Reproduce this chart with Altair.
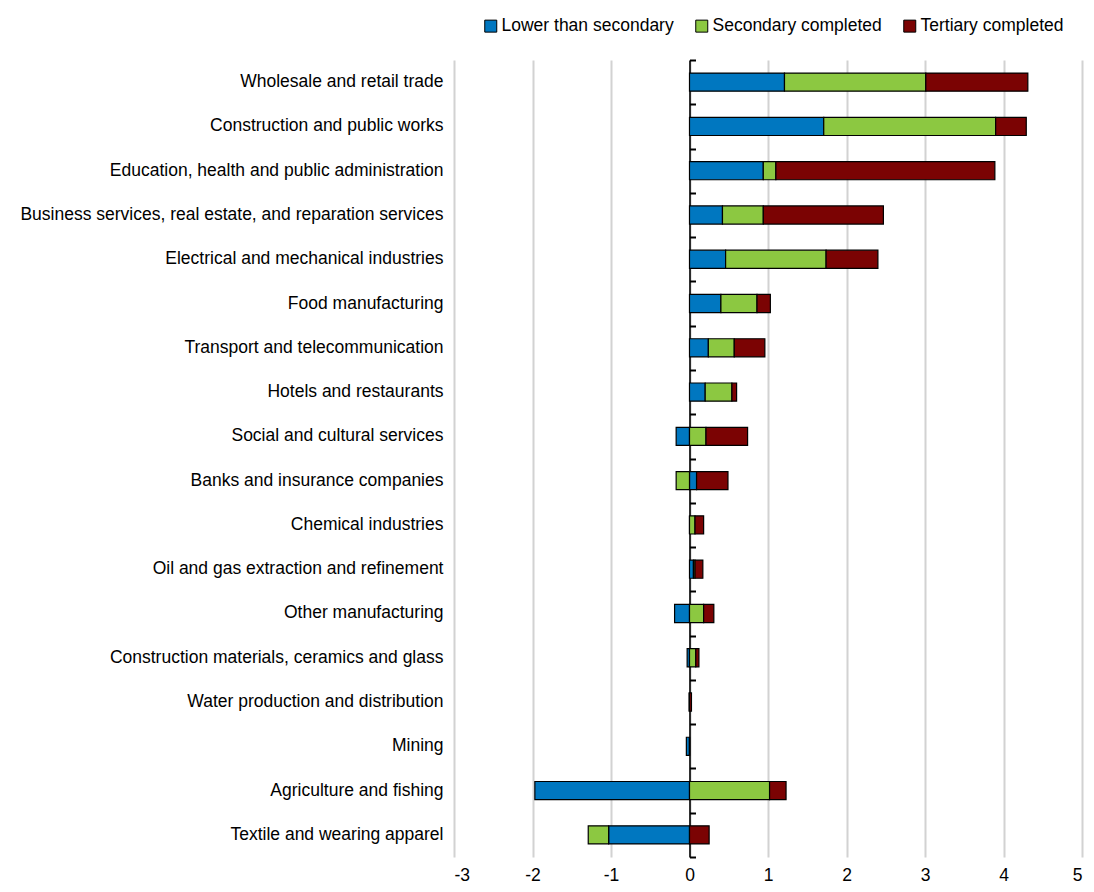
import altair as alt
import pandas as pd

categories = [
    "Wholesale and retail trade",
    "Construction and public works",
    "Education, health and public administration",
    "Business services, real estate, and reparation services",
    "Electrical and mechanical industries",
    "Food manufacturing",
    "Transport and telecommunication",
    "Hotels and restaurants",
    "Social and cultural services",
    "Banks and insurance companies",
    "Chemical industries",
    "Oil and gas extraction and refinement",
    "Other manufacturing",
    "Construction materials, ceramics and glass",
    "Water production and distribution",
    "Mining",
    "Agriculture and fishing",
    "Textile and wearing apparel\u00a0",
]
series = ["Lower than secondary", "Secondary completed", "Tertiary completed"]
lower = [1.21, 1.71, 0.94, 0.42, 0.46, 0.40, 0.24, 0.20, -0.17, 0.09, 0.0, 0.05, -0.19, -0.03, -0.005, -0.04, -1.97, -1.03]
secondary = [1.80, 2.19, 0.16, 0.52, 1.28, 0.46, 0.33, 0.34, 0.21, -0.17, 0.07, 0.02, 0.18, 0.08, 0.0, 0.0, 1.02, -0.26]
tertiary = [1.30, 0.39, 2.79, 1.53, 0.66, 0.17, 0.39, 0.06, 0.53, 0.40, 0.11, 0.10, 0.13, 0.04, 0.025, 0.0, 0.21, 0.25]
colors = ["#0077c0", "#8cc841", "#7b0303"]
x_ticks = [-3, -2, -1, 0, 1, 2, 3, 4, 5]

rows = []
for i, c in enumerate(categories):
    for j, (s, vals) in enumerate(zip(series, [lower, secondary, tertiary])):
        rows.append({"cat": c, "series": s, "order": j, "value": vals[i]})
df = pd.DataFrame(rows)

W, H = 628, 797
XMIN, XMAX = -3, 5
FONT = "Liberation Sans"
FS = 17.5
n = len(categories)

bars = alt.Chart(df).mark_bar(stroke="black", strokeWidth=1.2).encode(
    y=alt.Y("cat:N", sort=categories, title=None,
            scale=alt.Scale(paddingInner=0.59, paddingOuter=0.295),
            axis=alt.Axis(orient="left", domain=False, ticks=False, labelPadding=11,
                          labelFontSize=FS, labelFont=FONT, labelColor="black", labelLimit=600)),
    x=alt.X("value:Q", title=None,
            scale=alt.Scale(domain=[XMIN, XMAX], nice=False, zero=False),
            axis=alt.Axis(values=x_ticks, grid=True, gridColor="#d2d2d2", gridWidth=2,
                          domain=False, ticks=False, labelPadding=9, labelFontSize=FS,
                          labelFont=FONT, labelColor="black", labelExpr="'' + datum.value")),
    color=alt.Color("series:N", sort=series,
                    scale=alt.Scale(domain=series, range=colors),
                    legend=alt.Legend(title=None, orient="none", direction="horizontal",
                                      legendX=28, legendY=-43, padding=0,
                                      symbolType="square", symbolSize=144,
                                      symbolStrokeColor="black", symbolStrokeWidth=1,
                                      labelFont=FONT, labelFontSize=FS, labelColor="black",
                                      labelLimit=400, labelOffset=2, columnPadding=19)),
    order=alt.Order("order:Q"),
)

axis_df = pd.DataFrame({"v": [0, n]})
zero_axis = alt.Chart(axis_df).mark_point(opacity=0).encode(
    y=alt.Y("v:Q", title=None,
            scale=alt.Scale(domain=[0, n], nice=False, zero=False),
            axis=alt.Axis(orient="right", offset=-W * XMAX / (XMAX - XMIN),
                          values=list(range(n + 1)), labels=False, grid=False,
                          tickSize=6, tickWidth=2, tickColor="black",
                          domainColor="black", domainWidth=1.6)),
)

chart = alt.layer(bars, zero_axis).resolve_scale(y="independent").resolve_axis(y="independent").properties(
    width=W, height=H,
    autosize=alt.AutoSizeParams(type="none"),
    padding={"left": 446, "top": 52, "right": 4, "bottom": 27},
).configure_view(stroke=None)

chart.save("out.html", embed_options={"renderer": "svg", "actions": False})
